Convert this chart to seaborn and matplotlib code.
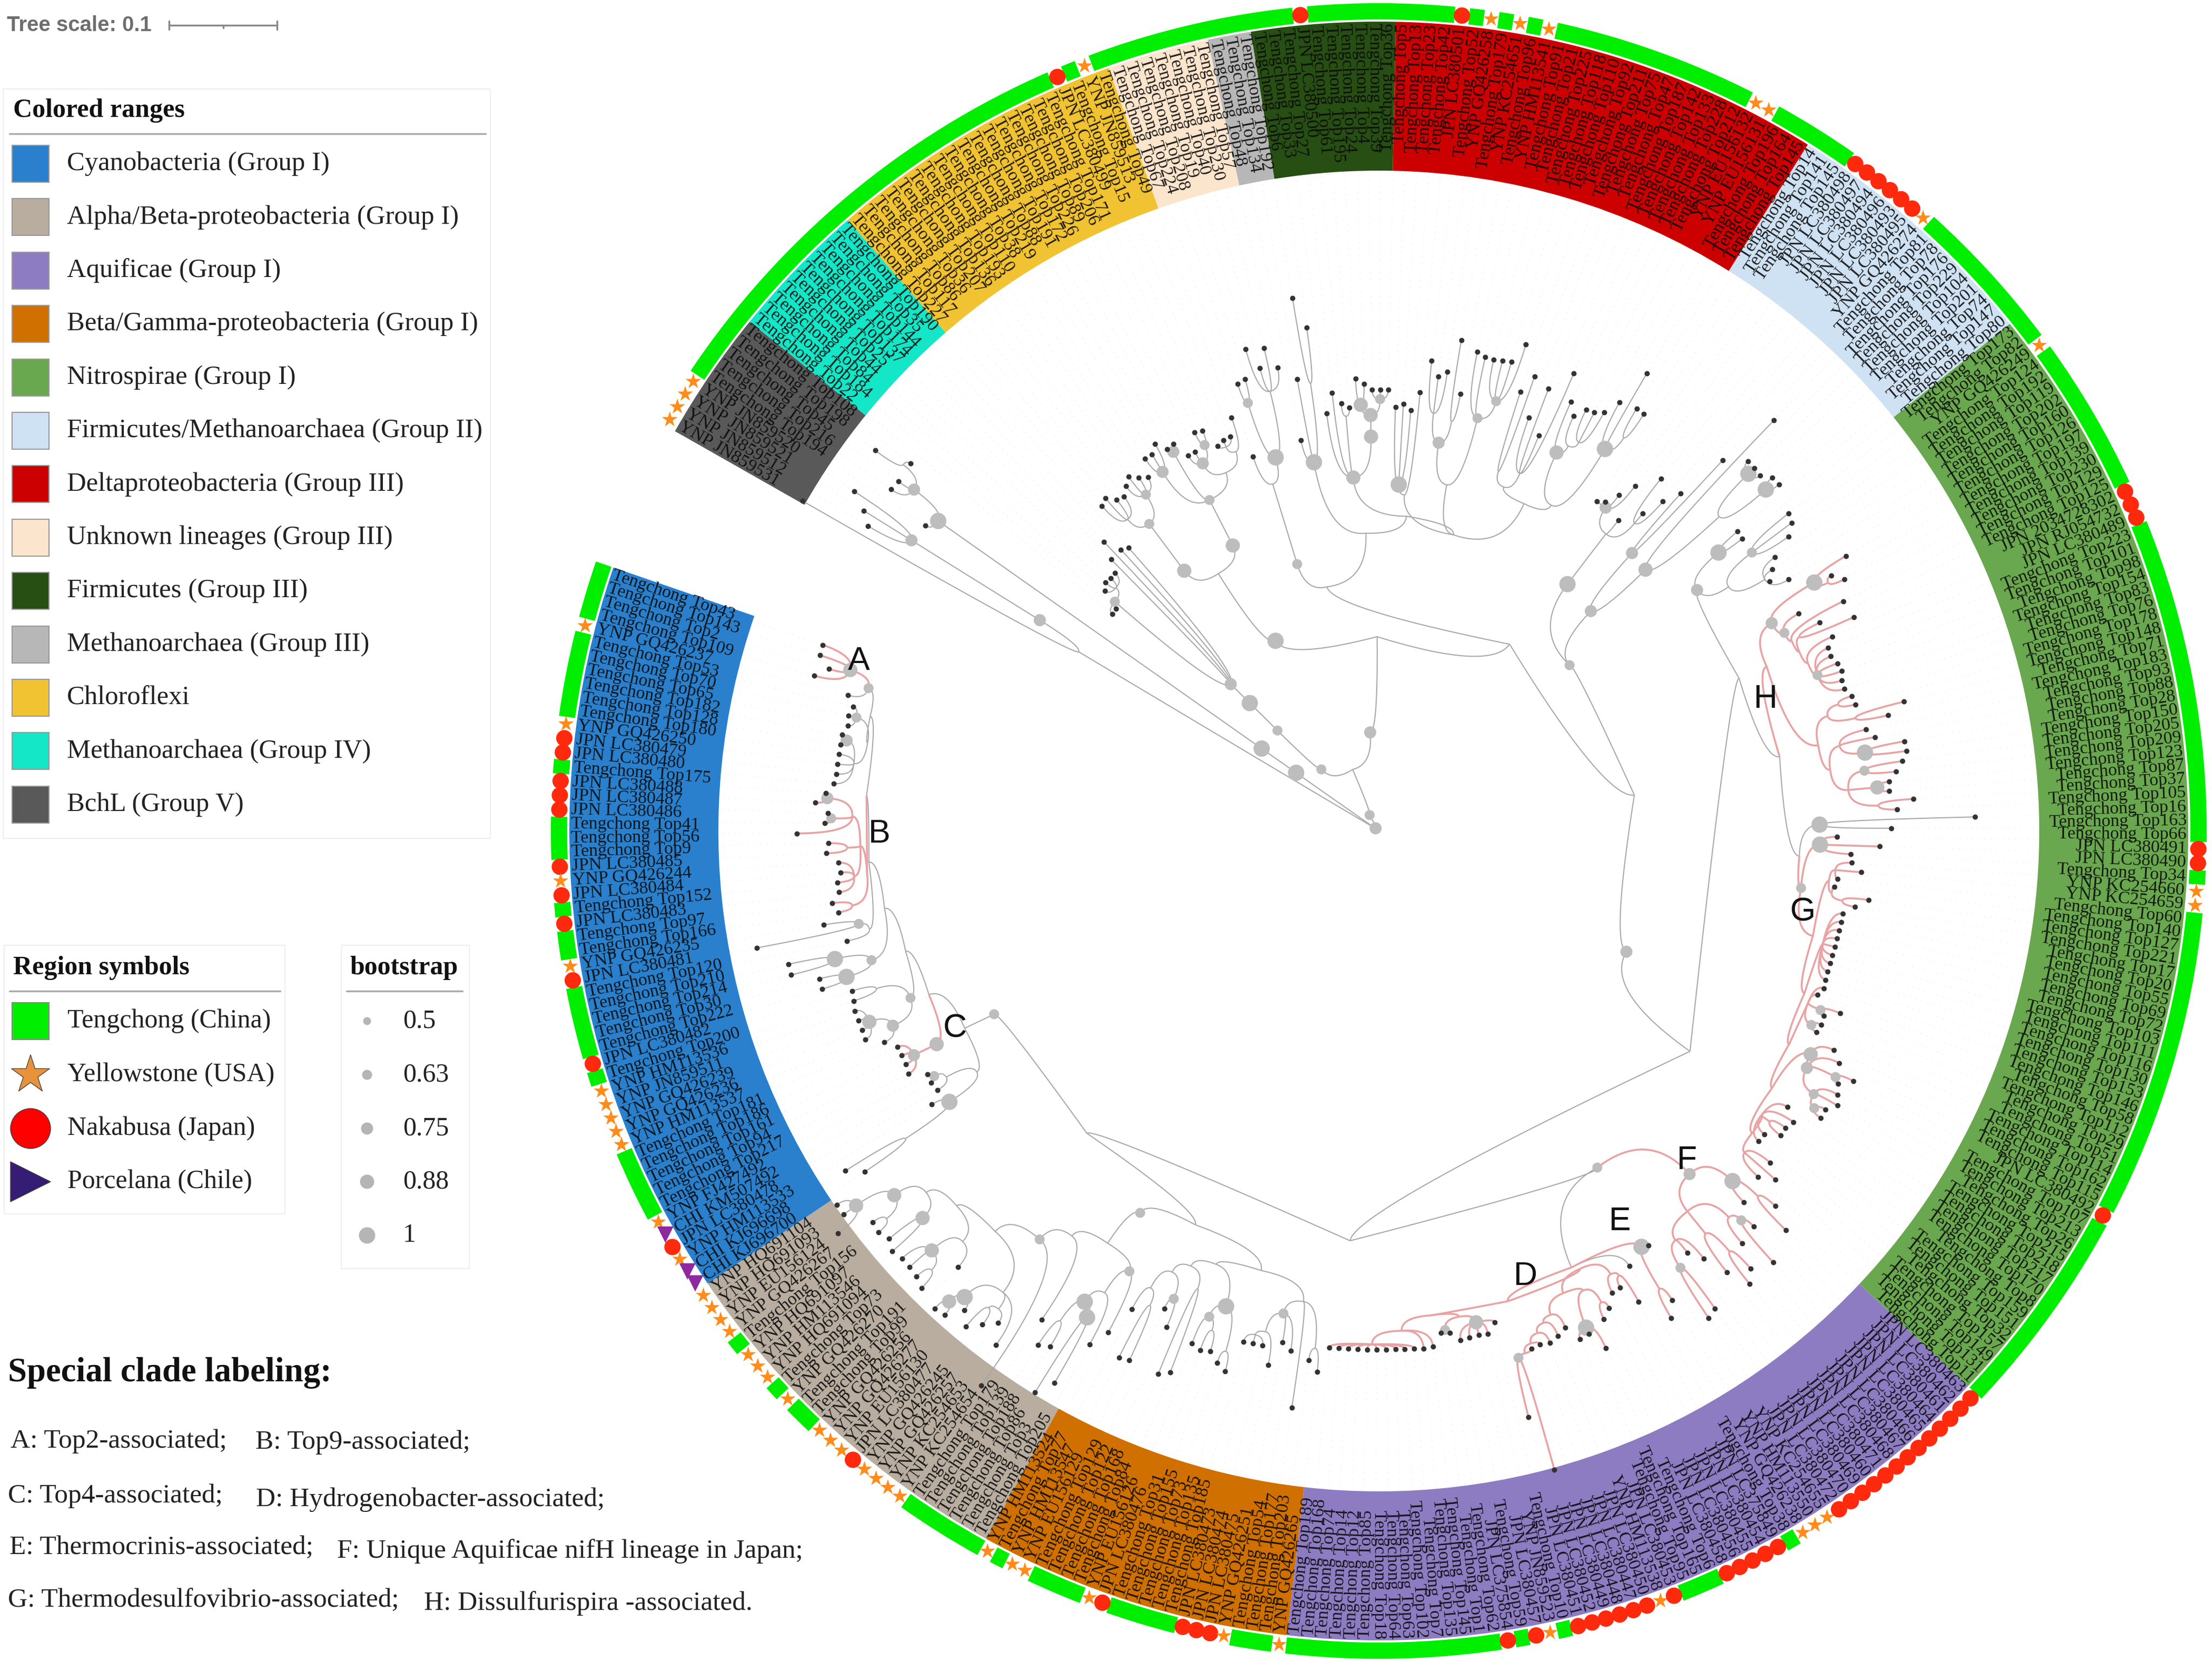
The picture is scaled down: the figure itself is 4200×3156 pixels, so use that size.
"""Circular nifH tree with coloured ranges, region ring and clade labels."""
import re
import numpy as np
import pandas as pd
import matplotlib
matplotlib.use('Agg')
import matplotlib.pyplot as plt
import seaborn as sns
from matplotlib.patches import Wedge, Rectangle
from matplotlib.collections import LineCollection

sns.set_theme(style='white')
SERIF = ['Liberation Serif', 'DejaVu Serif']
SANS = ['Liberation Sans', 'DejaVu Sans']

# ── Coloured ranges: name, colour, first and last angle (deg, anticlockwise) ──
RANGE_NAMES = ['Cyanobacteria (Group I)', 'Alpha/Beta-proteobacteria (Group I)', 'Aquificae (Group I)',
               'Beta/Gamma-proteobacteria (Group I)', 'Nitrospirae (Group I)',
               'Firmicutes/Methanoarchaea (Group II)', 'Deltaproteobacteria (Group III)',
               'Unknown lineages (Group III)', 'Firmicutes (Group III)', 'Methanoarchaea (Group III)',
               'Chloroflexi', 'Methanoarchaea (Group IV)', 'BchL (Group V)']
RANGE_COLORS = ['#2a80cc', '#b8ad9f', '#8e7cc3', '#cf7000', '#6aa84f', '#cfe2f3', '#cc0000',
                '#fce5cd', '#274e13', '#b7b7b7', '#f1c232', '#14e6c8', '#595959']

# ── Leaf labels per range, in angle order. T=Tengchong Top, Y=YNP, J=JPN, C=CHI ──
CYANO = ("T43 T143 T2 T109 YGQ426237 T53 T70 T65 T182 T128 T180 YGQ426250 JLC380479 JLC380480 T175 "
         "JLC380488 JLC380487 JLC380486 T41 T56 T9 JLC380485 YGQ426244 JLC380484 T152 JLC380483 T97 T166 "
         "YGQ426235 JLC380481 T120 T210 T214 T30 T222 JLC380482 T200 YHM113536 YJN859511 YGQ426239 "
         "YGQ426236 YHM113537 T181 T186 T161 T94 T217 YFJ427492 CKM507492 JLC380478 YHM113533 "
         "CKJ696698 CKJ696700").split()
ALPHA = ("YHQ691104 YHQ691093 YEU156124 YGQ426267 T156 YHQ691097 YHM113546 YHQ691094 T73 YGQ426270 "
         "T191 T99 YGQ426256 YGQ426277 YEU156130 JLC380477 YGQ426245 YGQ426257 YKC254653 YKC254654 "
         "T179 T139 T188 T86 T3 T205").split()
ORANGE = ("YHM113524 T77 YHM113547 YEU156129 T129 T122 T168 T84 YEU156126 JLC380476 T31 T155 T73 "
          "T135 T185 JLC380473 JLC380474 JLC380475 YGQ426251 T54 T177 T203 YGQ426265").split()
AQUIF = ("T189 T168 T74 T14 T12 T85 T18 T64 T63 T102 T7 T135 T145 T1 T62 JLC375854 T59 JLC380457 "
         "YJN859523 T10 JLC380451 JLC380452 JLC380449 JLC380448 JLC380447 JLC380450 YHM113538 JLC380453 "
         "T95 T165 T6 JLC380458 JLC380456 JLC380455 JLC380454 JLC375849 T38 YGQ426238 YHM113550 "
         "YKC254655 JLC380472 JLC380470 JLC380469 JLC380460 JLC380471 JLC380468 JLC380467 JLC380466 "
         "JLC380465 JLC380464 JLC380461 JLC380462 JLC380463").split()
NITRO = ("T11 T131 T149 T157 T32 T151 T159 T8 T170 T217 T218 T215 T26 T213 T107 JLC380492 T115 T162 "
         "T114 T51 T29 T112 T58 T146 T153 T130 T116 T111 T103 T72 T69 T55 T20 T17 T221 T127 T140 T60 "
         "YKC254659 YKC254660 T34 JLC380490 JLC380491 T66 T163 T16 T105 T37 T87 T123 T209 T205 T150 "
         "T28 T88 T93 T183 T71 T148 T178 T76 T83 T154 T98 T101 T223 JLC380489 JRJ054732 J2034728302 "
         "T125 T129 T230 T139 T197 T126 T160 T202 T119 T192 T124 YGQ426249 T82 T173").split()
FIRMI2 = ("T80 T147 T74 T201 T104 T229 T176 T78 T81 YGQ426274 JLC380495 JLC380493 JLC380496 JLC380494 "
          "JLC380497 JLC380498 T145 T141 T14").split()
DELTA = ("T145 T164 T196 YEU156131 YEU156132 T212 T228 T133 T142 T187 T47 T75 T211 T92 T110 T118 T225 "
         "T21 T91 YHM113541 T96 YKC254651 T179 YGQ426258 T52 JLC380501 T42 T23 T13 T5").split()
FIRMI3 = "T36 T39 T4 T24 T195 T61 JLC380500 T27 T33 T6".split()
METH3 = "T192 T134 T48".split()
UNKNOWN = "T57 T230 T40 T19 T208 T224 T67".split()
CHLORO = ("T49 YJN859513 T15 JLC380499 T171 T206 T89 T226 T172 T191 T88 T219 T38 T110 T193 T136 T207 "
          "T36 T86 T117 T227").split()
METH4 = "T190 T35 T144 T174 T137 T25 T44 T84 T184 T22".split()
BCHL = "T108 T198 T45 T216 T194 YJN859520 YJN859521 YJN859512 YJN859531".split()

# clockwise drawing order on the picture is anticlockwise in angle, starting at Cyanobacteria
ORDER_LABELS = [CYANO, ALPHA, ORANGE, AQUIF, NITRO, FIRMI2, DELTA, FIRMI3, METH3, UNKNOWN, CHLORO, METH4, BCHL]
ORDER_COLORS = [0, 1, 3, 2, 4, 5, 6, 8, 9, 7, 10, 11, 12]
ORDER_EDGES = [161.0, 214.0, 241.0, 263.5, 316.7, 398.8, 418.0, 448.8, 459.1, 462.2, 469.5, 491.0, 501.0, 510.4]

# ── Tree: tip = radius, (children)radius, *n = bootstrap class, @a = angle, p = pink ──
A_ = "p(1114,1112,1088,1112)1049*3"
AG = f"({A_},1040)1006*1"
AH = "((1026,1030,1028)1015*1,((1035,1035)1025*2,1035,1036,1036,1039)1005)985"
B_ = "p((((1052,1071)1049*2,(1047,1052)1040*1,1105)1000,(1045,1050)1010,(1028,1025,1033,1032)1000)985,(1047,1038)1010)975"
U3 = f"((({AG},{AH})990,{B_})975,((1069,1202)1003*1,1031)985)970"
U2 = f"({U3},((1149,1149)1061*4,(1099,1099)1048*4)994*1)950"
U1 = f"({U2},((1045,1048)1000,((1052,1052,1051,1052)1033*3,1021)994*2)944*1)927"
CP = "p((1002,1001,1001,1005)980*2)932*3"
V_ = "(((974,975)964*1,972)945,(995,(1201,1171)1072)964*4)890"
TOPC = f"((({U1},{CP})909,{V_})871)809*1"

a1 = "((1250,1250,1280)1221*3,(1215,1218)1190)1151*3"
a2 = f"({a1},(1210,1221)1136*3)1100"
a3 = "((1216,1216,(1219,1228)1190)1164*3,1151)1110"
S_ = "(((1238,1235)1210*3,1203)1184*4,((1225,1202)1170,1181)1160,1217)1130"
P6 = f"((({a2},{a3})1072,{S_})1053,1296)1008*1"
P4 = f"({P6},1127)965"
P5 = "((((1171,1161)1110,(1250,1216)1077*4)1054*4,1119)1020,1082)961*1"
P1 = f"(({P4},{P5})937)855*1@238"

OL = "(((1022,(1115,1111)1000)970,(994,1025)970*1)925,(1113,1102)935)900"
OM = "((1036,(1043,1038)1000)977*1,(1056,1067)1030)948*4"
OR = "((((1003,1002,1002)985,1035)975,988,1001)934*1,1107,(1014,1034)990)905"
N2 = f"({TOPC},({P1},(({OL},{OM})879,{OR})864@255)825@245)798@226"

DA = "(((985,985,985,985,985,985,985,985,985,985)975,987,984)950,((960,963)956*1,(979,977,976,977,959)951*3)935)925"
DB = "((((((1149,1258)1035*1,1025)1030,1022)1015,1025)1000,1018)985,1007)975"
DC = "((1038,1035,1072)1022*4,(1021,1006)990)955"
D_ = f"p({DA},(({DB},{DC})945,(983,(981,1021)960)950)915)926"
E_ = "p((1079,1051)1020,939)934*4"
F_ = "p((((1117,1109)1008*1,993,1020)960,(1067,(1111,1091)1040)985,(1044,(1110,1035)1010*1)990)930,(989,(1083,1036)1000)945*4)879*2"
N1 = f"({N2},(({D_},953,{E_})906,{F_})762*1)780@266"

GA = "((975,1003,974)925,(931,932,(957,956)925,962,937)905)912"
GB = "((((1000,1000)980*1,1015,1005)965*1,(995,1018)985*1,979)929*2,959)923*3"
GC = "((915,917)900*1,(915,942)905*1,889,896)878"
GD = "(894,893,893,893,894,894,894,895,895)870"
GE = "(((915,939)890,871)868,(876,919,900)870)860"
K_ = f"(p((((({GA},{GB})892,{GC})878,{GD})865,{GE})848,(897,951,870)838*4)809*1,(973,1132)837*4)800"

HL1 = "((985,1017)950,(972,974)950*3,(988,1003)929*1)895"
HL2 = "((1013,1012)935*4,959,945)890"
HL3 = "((992,1027)930,(936,934)905)880"
HP = "(((((924,924,930,927,920,921)884*1,937)875,(989,926)880)868,984)863,898)857*1"
HQ = "((1005,986)975,1029)952*4"
H_ = f"p((({HL1},{HL2})865,{HL3})850,({HP},{HQ})844*2)800@383"
N8 = "(((913,880,897,914)875,(958,978,985)884*1)810,(886,887)834*4)758*2"
N3 = f"({N1},(({K_},{H_})774@370.5,{N8})743@383)724@324.7"

LB_R = "((((1005,1004)980*4,(990,991,992)976*4)880,1082)709*3,(960,860)714*2)580*2"
LB_L = "(((826,784,857)760,745,(816,784,759,750)750*2)710)590*4"
N4 = f"(({N3})523*2@334,({LB_R},{LB_L})480*1@401)490@368"

R1_ = "((938,940)880,1007,933)843*4"
R2_ = "(((903,894,892)830,871)815,893)794*3"
R3_ = "((945,810,900,835)730,(912,876)720)695"
R4_ = "((965,926,923,921)846*1,922,929)806*1"
R5_ = "((844,945)790,(882,870,899)800)746*2"
RED = f"((({R1_},{R2_})700,{R3_})680,({R4_},{R5_})670,(837,(801,812,806)659*4)640)580"
DG = "((((838,838,838)820*1,(849,860)810*3)790*3)749*3,(806,815)790,837,799)673*3"
WL = "((966,1025)860,872,757)711*4"
PE = "(((901,943,908,949)860,(895,890)850*1)736*4,750)689"
N5 = f"({N4},((({RED},{DG})600,{WL})566,({PE})530*1)474@462)433@415"

Y1 = "(((833,(800,799,793)785)770,((830,834)804*1,800,800)774*2)740,(832,829)819*2,(849,835,835)796*2)706*1"
Y2 = "((802,811,824,812)777*1,(798,802,818,811)760)728*1"
YB = f"((({Y1})609*3,({Y2})617*3)576)411*4@478.5"
CY = "(718,725,758,724,((701,700,702,692)680,654,653)664*1)396*2"
B1 = "(((1130,1199)1140,1128,1131)1095*2,1038)1023*4"
B2 = "((1187,1152,1130)1045*2)758*2"
TREE = (f"((((({N5},{YB})369@450.5)188*2@455,((({CY})345*4)271*1)160*1@493)127@473)35*1@480,"
        f"(({B1})272*4)192*4,({B2},1261)664)8*2@500")

# ── Clade letters (x, y in pixels) and text blocks ───────────────────────────
CLADE_LETTERS = ['A', 'B', 'C', 'D', 'E', 'F', 'G', 'H']
CLADE_X = [1631, 1670, 1813, 2896, 3076, 3203, 3423, 3352]
CLADE_Y = [1255, 1583, 1953, 2424, 2319, 2204, 1732, 1327]
REGION_NAMES = ['Tengchong (China)', 'Yellowstone (USA)', 'Nakabusa (Japan)', 'Porcelana (Chile)']
BOOT_VALUES = [0.5, 0.63, 0.75, 0.88, 1]
BOOT_LABELS = ['0.5', '0.63', '0.75', '0.88', '1']
BOOT_AREAS = {0.5: 116, 0.63: 187, 0.75: 274, 0.88: 378, 1: 498}
SPECIAL_TEXT = ['A: Top2-associated;', 'B: Top9-associated;', 'C: Top4-associated;',
                'D: Hydrogenobacter-associated;', 'E: Thermocrinis-associated;',
                'F: Unique Aquificae nifH lineage in Japan;', 'G: Thermodesulfovibrio-associated;',
                'H: Dissulfurispira -associated.']
SPECIAL_X = [20, 485, 15, 486, 18, 640, 15, 805]
SPECIAL_Y = [2737, 2739, 2841, 2848, 2939, 2946, 3040, 3045]

CX, CY0 = 2618, 1578
R_IN, R_OUT = 1254, 1537
RING_IN, RING_OUT = 1541, 1572


def polar(r, a):
    t = np.radians(a)
    return CX + r * np.cos(t), CY0 - r * np.sin(t)


def expand(code):
    prefix = {'T': 'Tengchong Top', 'Y': 'YNP ', 'J': 'JPN ', 'C': 'CHI '}
    return prefix[code[0]] + code[1:]


# ── Parse tree string ────────────────────────────────────────────────────────
tokens = re.findall(r'p|\(|\)|,|\d+(?:\.\d+)?|\*\d|@[\d.]+', TREE)
pos = 0
nodes = []


def parse(pink=False):
    global pos
    if tokens[pos] == 'p':
        pink = True
        pos += 1
    node = dict(kids=[], pink=pink, boot=None, ang=None)
    if tokens[pos] == '(':
        pos += 1
        while True:
            node['kids'].append(parse(pink))
            if tokens[pos] == ',':
                pos += 1
            else:
                pos += 1  # closing bracket
                break
    node['r'] = float(tokens[pos])
    pos += 1
    while pos < len(tokens) and tokens[pos][0] in '*@':
        if tokens[pos][0] == '*':
            node['boot'] = BOOT_VALUES[int(tokens[pos][1:])]
        else:
            node['ang'] = float(tokens[pos][1:])
        pos += 1
    nodes.append(node)
    return node


root = parse()
tips = []


def collect(n):
    if not n['kids']:
        tips.append(n)
    for k in n['kids']:
        collect(k)


collect(root)
tip_angles = np.linspace(161.5, 510.2, len(tips))
for t, a in zip(tips, tip_angles):
    t['ang'] = a


def place(n):
    for k in n['kids']:
        place(k)
    if n['ang'] is None:
        n['ang'] = 0.5 * (n['kids'][0]['ang'] + n['kids'][-1]['ang'])


place(root)

gray_segs, pink_segs = [], []
u = np.linspace(0, 1, 30)[:, None]


def edges(n):
    for k in n['kids']:
        p0 = np.array(polar(n['r'], n['ang']))
        p1 = np.array(polar(n['r'], k['ang']))
        p2 = np.array(polar(k['r'], k['ang']))
        curve = (1 - u) ** 2 * p0 + 2 * u * (1 - u) * p1 + u ** 2 * p2
        (pink_segs if k['pink'] else gray_segs).append(curve)
        edges(k)


edges(root)

tip_df = pd.DataFrame({'x': [polar(t['r'], t['ang'])[0] for t in tips],
                       'y': [polar(t['r'], t['ang'])[1] for t in tips]})
boot_nodes = [n for n in nodes if n['boot'] is not None]
boot_df = pd.DataFrame({'x': [polar(n['r'], n['ang'])[0] for n in boot_nodes],
                        'y': [polar(n['r'], n['ang'])[1] for n in boot_nodes],
                        'boot': [n['boot'] for n in boot_nodes]})

# ── Figure ───────────────────────────────────────────────────────────────────
fig = plt.figure(figsize=(42, 31.56), dpi=100, facecolor='white')
ax = fig.add_axes([0, 0, 1, 1])
ax.set_xlim(0, 4200)
ax.set_ylim(3156, 0)
ax.axis('off')

# coloured ranges
for i in range(len(ORDER_LABELS)):
    a0, a1_ = ORDER_EDGES[i], ORDER_EDGES[i + 1]
    ax.add_patch(Wedge((CX, CY0), R_OUT, -a1_, -a0, width=R_OUT - R_IN,
                       facecolor=RANGE_COLORS[ORDER_COLORS[i]], edgecolor='none', zorder=1))

# leaf labels and the region ring
ring = []
for i, codes in enumerate(ORDER_LABELS):
    step = (ORDER_EDGES[i + 1] - ORDER_EDGES[i]) / len(codes)
    for j, code in enumerate(codes):
        a = ORDER_EDGES[i] + (j + 0.5) * step
        x, y = polar(R_OUT - 3, a)
        c, s = np.cos(np.radians(a)), np.sin(np.radians(a))
        rot = np.degrees(np.arctan2(s, c))
        if c >= 0:
            ax.text(x, y, expand(code), rotation=rot, rotation_mode='anchor', ha='right', va='center',
                    fontsize=24.5, family=SERIF, color='#0a0a0a', alpha=0.9, zorder=2)
        else:
            ax.text(x, y, expand(code), rotation=rot - 180, rotation_mode='anchor', ha='left', va='center',
                    fontsize=24.5, family=SERIF, color='#0a0a0a', alpha=0.9, zorder=2)
        ring.append((a, step, code[0]))

ring_df = pd.DataFrame(ring, columns=['ang', 'step', 'region'])
run_start = None
for k, row in ring_df.iterrows():
    if row['region'] == 'T' and run_start is None:
        run_start = row['ang'] - row['step'] / 2
    nxt = ring_df['region'].iloc[k + 1] if k + 1 < len(ring_df) else 'X'
    if row['region'] == 'T' and nxt != 'T':
        ax.add_patch(Wedge((CX, CY0), RING_OUT, -(row['ang'] + row['step'] / 2), -run_start,
                           width=RING_OUT - RING_IN, facecolor='#00ee00', edgecolor='none', zorder=2))
        run_start = None

marks = ring_df[ring_df['region'] != 'T'].copy()
marks['x'], marks['y'] = polar((RING_IN + RING_OUT) / 2, marks['ang'].values)
sns.scatterplot(data=marks, x='x', y='y', hue='region', style='region', ax=ax, legend=False,
                palette={'Y': '#ff8c1a', 'J': '#ff2a0d', 'C': '#8e2a9e'},
                markers={'Y': '*', 'J': 'o', 'C': 'v'}, s=500, linewidth=0, zorder=4)

# faint leader lines from the tips to the ranges
leaders = [[polar(t['r'], t['ang']), polar(R_IN, t['ang'])] for t in tips if t['r'] < R_IN]
ax.add_collection(LineCollection(leaders, colors='#eeeeee', linewidths=1.2, linestyles=(0, (1, 6)), zorder=1))

# branches
ax.add_collection(LineCollection(gray_segs, colors='#a8a8a8', linewidths=1.5, zorder=3))
ax.add_collection(LineCollection(pink_segs, colors='#e8a3a3', linewidths=2.6, zorder=3))

sns.scatterplot(data=boot_df, x='x', y='y', size='boot', sizes=BOOT_AREAS, color='#bdbdbd', linewidth=0,
                ax=ax, legend=False, zorder=5)
sns.scatterplot(data=tip_df, x='x', y='y', color='#333333', s=52, linewidth=0, ax=ax, legend=False, zorder=6)

for letter, x, y in zip(CLADE_LETTERS, CLADE_X, CLADE_Y):
    ax.text(x, y, letter, fontsize=45, family=SANS, color='#111111', ha='center', va='center', zorder=7)

# tree scale
ax.text(13, 48, 'Tree scale: 0.1', fontsize=29, family=SANS, weight='bold', color='#6e6e6e', va='center')
ax.plot([321, 526], [48, 48], color='#888888', lw=2.5)
ax.plot([321, 321], [40, 56], color='#888888', lw=2.5)
ax.plot([526, 526], [40, 56], color='#888888', lw=2.5)
ax.plot([424, 424], [48, 53], color='#888888', lw=2.5)


def legend_box(x0, x1, y0, y1, rule_x0, rule_x1, rule_y, title, title_x, ha='left'):
    ax.add_patch(Rectangle((x0, y0), x1 - x0, y1 - y0, facecolor='white', edgecolor='#eeeeee', lw=1.5, zorder=1))
    ax.plot([rule_x0, rule_x1], [rule_y, rule_y], color='#aaaaaa', lw=2.5, zorder=2)
    ax.text(title_x, rule_y - 44, title, fontsize=36, family=SERIF, weight='bold', color='#111111',
            ha=ha, va='center')


# coloured ranges legend
legend_box(6, 931, 169, 1592, 18, 922, 254, 'Colored ranges', 25)
range_y = 311 + 101.4 * np.arange(13)
for name, col, y in zip(RANGE_NAMES, RANGE_COLORS, range_y):
    ax.add_patch(Rectangle((23, y - 35), 70, 70, facecolor=col, edgecolor='#999999', lw=1.5, zorder=2))
    ax.text(127, y, name, fontsize=36.5, family=SERIF, color='#222222', va='center')

# region legend
legend_box(8, 541, 1795, 2305, 18, 532, 1882, 'Region symbols', 25)
region_y = np.array([1939, 2041, 2143, 2244])
ax.add_patch(Rectangle((23, 1904), 70, 70, facecolor='#00ee00', edgecolor='#888888', lw=1.5, zorder=2))
sym_df = pd.DataFrame({'x': [58, 58, 58], 'y': region_y[1:], 'name': REGION_NAMES[1:]})
sns.scatterplot(data=sym_df, x='x', y='y', hue='name', style='name', ax=ax, legend=False, s=3000,
                palette=dict(zip(REGION_NAMES[1:], ['#e8923c', '#ff0000', '#351c75'])),
                markers=dict(zip(REGION_NAMES[1:], ['*', 'o', '>'])), edgecolor='#444444', linewidth=1, zorder=3)
for name, y in zip(REGION_NAMES, region_y):
    ax.text(128, y, name, fontsize=36, family=SERIF, color='#222222', va='center')

# bootstrap legend
legend_box(648, 891, 1795, 2409, 658, 878, 1882, 'bootstrap', 767, ha='center')
leg_df = pd.DataFrame({'x': [697] * 5, 'y': [1939, 2041, 2143, 2244, 2346], 'boot': BOOT_VALUES})
sns.scatterplot(data=leg_df, x='x', y='y', size='boot', sizes=BOOT_AREAS, color='#b5b5b5', linewidth=0,
                ax=ax, legend=False, zorder=3)
for lab, y in zip(BOOT_LABELS, leg_df['y']):
    ax.text(765, y, lab, fontsize=36, family=SERIF, color='#222222', va='center')

# special clade text
ax.text(15, 2607, 'Special clade labeling:', fontsize=46.5, family=SERIF, weight='bold', color='#111111', va='center')
for s, x, y in zip(SPECIAL_TEXT, SPECIAL_X, SPECIAL_Y):
    ax.text(x, y, s, fontsize=37, family=SERIF, color='#222222', va='center')

ax.set_xlim(0, 4200)
ax.set_ylim(3156, 0)
ax.axis('off')
fig.savefig('out.png', dpi=100)
